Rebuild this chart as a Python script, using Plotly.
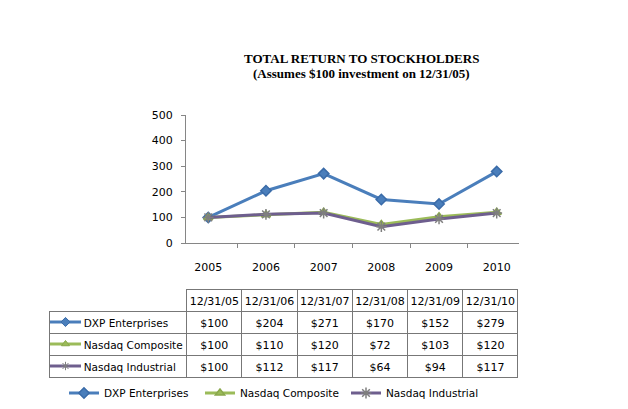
import plotly.graph_objects as go

# Chart data
years = ['2005', '2006', '2007', '2008', '2009', '2010']
dates = ['12/31/05', '12/31/06', '12/31/07', '12/31/08', '12/31/09', '12/31/10']
series_names = ['DXP Enterprises', 'Nasdaq Composite', 'Nasdaq Industrial']
dxp = [100, 204, 271, 170, 152, 279]
nasdaq_comp = [100, 110, 120, 72, 103, 120]
nasdaq_ind = [100, 112, 117, 64, 94, 117]
y_ticks = [0, 100, 200, 300, 400, 500]

W, H = 628, 409
FONT = 'DejaVu Sans'
BODY = 8  # page body margin, figure is drawn 8px in from the corner

styles = [
    dict(color='#4A7EBB', symbol='diamond', size=8, mfill='#4A7EBB', mline='#3A6BA8'),
    dict(color='#9BBB59', symbol='triangle-up', size=8, mfill='#9BBB59', mline='#8AA84C'),
    dict(color='#6E5E8E', symbol='asterisk-open', size=9, mfill='#7F7F7F', mline='#7F7F7F'),
]
values = [dxp, nasdaq_comp, nasdaq_ind]

def px_x(p):
    return (p - BODY) / W

def px_y(p):
    return 1 - (p - BODY) / H

fig = go.Figure()

# main line chart, each series with its own legend so the keys sit where they should
legend_ids = ['legend', 'legend2', 'legend3']
for name, vals, st, lg in zip(series_names, values, styles, legend_ids):
    fig.add_trace(go.Scatter(
        x=years, y=vals, name=name, mode='lines+markers',
        line=dict(color=st['color'], width=3),
        marker=dict(symbol=st['symbol'], size=st['size'], color=st['mfill'],
                    line=dict(color=st['mline'], width=1.5)),
        xaxis='x', yaxis='y', legend=lg,
    ))

# data table below the chart (nbsp so the labels don't wrap)
col0 = ['\u2007' * 4 + n.replace(' ', '\u00a0') for n in series_names]
cols = [col0] + [[f'${v[i]}' for v in values] for i in range(len(dates))]
fig.add_trace(go.Table(
    domain=dict(x=[px_x(49), px_x(519)], y=[px_y(400), px_y(289)]),
    columnwidth=[138] + [55.3] * len(dates),
    header=dict(
        values=[''] + dates,
        height=22,
        align='center',
        font=dict(family=FONT, size=11, color='black'),
        fill=dict(color=['rgba(0,0,0,0)'] + ['white'] * len(dates)),
        line=dict(color=['rgba(0,0,0,0)'] + ['#777777'] * len(dates), width=1),
    ),
    cells=dict(
        values=cols,
        height=22,
        align=['left'] + ['center'] * len(dates),
        font=dict(family=FONT, size=[10.5] + [11] * len(dates), color='black'),
        fill=dict(color='rgba(0,0,0,0)'),
        line=dict(color='#777777', width=1),
    ),
))

# small legend keys inside the table's first column
for i, (name, st) in enumerate(zip(series_names, styles)):
    fig.add_trace(go.Scatter(
        x=[0, 1, 2], y=[-i] * 3, mode='lines', showlegend=False,
        line=dict(color=st['color'], width=3), hoverinfo='skip',
        xaxis='x2', yaxis='y2',
    ))
    fig.add_trace(go.Scatter(
        x=[1], y=[-i], mode='markers', showlegend=False, hoverinfo='skip',
        marker=dict(symbol=st['symbol'], size=7, color=st['mfill'],
                    line=dict(color=st['mline'], width=1)),
        xaxis='x2', yaxis='y2',
    ))

def legend_at(xpix):
    return dict(
        orientation='h', x=px_x(xpix), y=px_y(393), xanchor='left', yanchor='middle',
        font=dict(family=FONT, size=10.5), itemwidth=30, bgcolor='rgba(0,0,0,0)',
    )

fig.update_layout(
    width=W, height=H,
    margin=dict(l=0, r=0, t=0, b=0, autoexpand=False),
    paper_bgcolor='white', plot_bgcolor='white',
    font=dict(family=FONT, size=11, color='black'),
    xaxis=dict(
        domain=[px_x(186), px_x(519)], type='category',
        showline=True, linecolor='#868686', linewidth=1,
        ticks='outside', ticklen=4, tickcolor='#868686', tickson='boundaries',
        showgrid=False, zeroline=False, ticklabelstandoff=14,
        tickfont=dict(family=FONT, size=11), automargin=False,
    ),
    yaxis=dict(
        domain=[px_y(243), px_y(115)], range=[0, 500],
        tickvals=y_ticks,
        showline=True, linecolor='#868686', linewidth=1,
        ticks='outside', ticklen=4, tickcolor='#868686',
        showgrid=False, zeroline=False, ticklabelstandoff=6,
        tickfont=dict(family=FONT, size=11), automargin=False,
    ),
    xaxis2=dict(domain=[px_x(50), px_x(81)], range=[0, 2], visible=False,
                anchor='y2', fixedrange=True),
    yaxis2=dict(domain=[px_y(377), px_y(311)], range=[-2.5, 0.5], visible=False,
                anchor='x2', fixedrange=True),
    legend=legend_at(64),
    legend2=legend_at(200),
    legend3=legend_at(346),
    annotations=[
        dict(text='<b>TOTAL RETURN TO STOCKHOLDERS</b>', x=px_x(361), y=px_y(59),
             xref='paper', yref='paper', showarrow=False, xanchor='center', yanchor='middle',
             font=dict(family='Liberation Serif', size=13, color='black')),
        dict(text='<b>(Assumes $100 investment on 12/31/05)</b>', x=px_x(361), y=px_y(74),
             xref='paper', yref='paper', showarrow=False, xanchor='center', yanchor='middle',
             font=dict(family='Liberation Serif', size=13, color='black')),
    ],
)

fig.write_html('out.html')
